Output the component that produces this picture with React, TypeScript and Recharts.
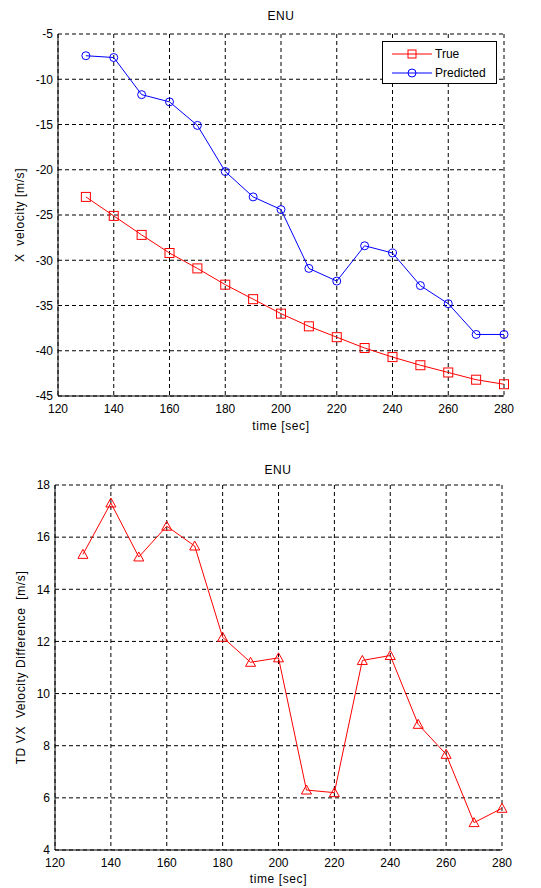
import React from "react";
import {
  LineChart,
  Line,
  XAxis,
  YAxis,
  CartesianGrid,
  Legend,
} from "recharts";

const times = [130, 140, 150, 160, 170, 180, 190, 200, 210, 220, 230, 240, 250, 260, 270, 280];
const trueVx = [-23.0, -25.1, -27.2, -29.2, -30.9, -32.7, -34.3, -35.9, -37.3, -38.5, -39.7, -40.7, -41.6, -42.4, -43.2, -43.7];
const predVx = [-7.4, -7.6, -11.7, -12.5, -15.1, -20.2, -23.0, -24.4, -30.9, -32.3, -28.4, -29.2, -32.8, -34.8, -38.2, -38.2];
const diffVx = [15.34, 17.31, 15.24, 16.42, 15.66, 12.16, 11.2, 11.37, 6.3, 6.2, 11.27, 11.46, 8.82, 7.67, 5.05, 5.6];

const xTicks = [120, 140, 160, 180, 200, 220, 240, 260, 280];
const yTicksTop = [-45, -40, -35, -30, -25, -20, -15, -10, -5];
const yTicksBottom = [4, 6, 8, 10, 12, 14, 16, 18];

const topData = times.map((t, i) => ({ t, trueV: trueVx[i], predV: predVx[i] }));
const bottomData = times.map((t, i) => ({ t, diff: diffVx[i] }));

const FONT = "'Liberation Sans', Arial, Helvetica, sans-serif";
const RED = "#ff0000";
const BLUE = "#0000ff";

const SquareDot = (props: any) => {
  const { cx, cy } = props;
  if (cx == null || cy == null) return null;
  return <rect x={cx - 4.5} y={cy - 4.5} width={9} height={9} fill="none" stroke={RED} strokeWidth={1} />;
};
const CircleDot = (props: any) => {
  const { cx, cy } = props;
  if (cx == null || cy == null) return null;
  return <circle cx={cx} cy={cy} r={4} fill="none" stroke={BLUE} strokeWidth={1} />;
};
const TriDot = (props: any) => {
  const { cx, cy } = props;
  if (cx == null || cy == null) return null;
  return (
    <polygon
      points={`${cx},${cy - 5} ${cx + 5},${cy + 4} ${cx - 5},${cy + 4}`}
      fill="none"
      stroke={RED}
      strokeWidth={1}
    />
  );
};

const tickStyle = { fill: "#000", fontSize: 12, fontFamily: FONT };
const labelStyle = { fill: "#000", fontSize: 12, fontFamily: FONT, letterSpacing: 0.6 };

const LegendBox = () => (
  <div
    style={{
      width: 115,
      height: 43,
      border: "1px solid #000",
      background: "#fff",
      fontFamily: FONT,
      fontSize: 12,
      boxSizing: "border-box",
      position: "relative",
    }}
  >
    <svg width={115} height={43} style={{ position: "absolute", left: 0, top: 0 }}>
      <line x1={9} x2={49} y1={12} y2={12} stroke={RED} strokeWidth={1} />
      <rect x={25} y={8} width={8} height={8} fill="none" stroke={RED} />
      <text x={52} y={16} fontSize={12} fontFamily={FONT} fill="#000">True</text>
      <line x1={9} x2={49} y1={31} y2={31} stroke={BLUE} strokeWidth={1} />
      <circle cx={29} cy={31} r={4} fill="none" stroke={BLUE} />
      <text x={52} y={35} fontSize={12} fontFamily={FONT} fill="#000">Predicted</text>
    </svg>
  </div>
);

const Title = ({ top, left }: { top: number; left: number }) => (
  <div
    style={{
      position: "absolute",
      top,
      left,
      width: 60,
      textAlign: "center",
      fontFamily: FONT,
      fontSize: 12,
      color: "#000",
      lineHeight: "14px",
      letterSpacing: 0.5,
    }}
  >
    ENU
  </div>
);

export default function App() {
  return (
    <div style={{ position: "absolute", left: 0, top: 0, width: 541, height: 888, background: "#fff" }}>
      <Title top={9} left={251} />
      <div style={{ position: "absolute", left: 0, top: 0 }}>
        <LineChart width={541} height={440} data={topData} margin={{ top: 34, right: 37, bottom: 0, left: 0 }}>
          <CartesianGrid stroke="#000" strokeDasharray="4 3" strokeWidth={1} />
          <XAxis
            dataKey="t"
            type="number"
            domain={[120, 280]}
            ticks={xTicks}
            height={44}
            tickSize={0}
            tickMargin={8}
            tick={tickStyle}
            axisLine={{ stroke: "#000" }}
            label={{ value: "time [sec]", position: "insideBottom", offset: 10, ...labelStyle }}
          />
          <XAxis xAxisId="top" orientation="top" dataKey="t" type="number" domain={[120, 280]} height={0} tick={false} tickLine={false} axisLine={{ stroke: "#000" }} />
          <YAxis
            type="number"
            domain={[-45, -5]}
            ticks={yTicksTop}
            width={58}
            tickSize={0}
            tickMargin={5}
            tick={tickStyle}
            axisLine={{ stroke: "#000" }}
            label={{ value: "X\u00a0\u00a0velocity [m/s]", angle: -90, position: "center", dx: -9, ...labelStyle }}
          />
          <YAxis yAxisId="right" orientation="right" domain={[-45, -5]} width={0} tick={false} tickLine={false} axisLine={{ stroke: "#000" }} />
          <Line dataKey="trueV" name="True" stroke={RED} strokeWidth={1} dot={<SquareDot />} isAnimationActive={false} />
          <Line dataKey="predV" name="Predicted" stroke={BLUE} strokeWidth={1} dot={<CircleDot />} isAnimationActive={false} />
          <Legend
            layout="vertical"
            align="center"
            verticalAlign="middle"
            content={() => <LegendBox />}
            wrapperStyle={{ top: 41, left: 382, width: 115, height: 43 }}
          />
        </LineChart>
      </div>
      <Title top={463} left={248} />
      <div style={{ position: "absolute", left: 0, top: 440 }}>
        <LineChart width={541} height={448} data={bottomData} margin={{ top: 45, right: 39, bottom: 0, left: 0 }}>
          <CartesianGrid stroke="#000" strokeDasharray="4 3" strokeWidth={1} />
          <XAxis
            dataKey="t"
            type="number"
            domain={[120, 280]}
            ticks={xTicks}
            height={38}
            tickSize={0}
            tickMargin={8}
            tick={tickStyle}
            axisLine={{ stroke: "#000" }}
            label={{ value: "time [sec]", position: "insideBottom", offset: 5, ...labelStyle }}
          />
          <XAxis xAxisId="top" orientation="top" dataKey="t" type="number" domain={[120, 280]} height={0} tick={false} tickLine={false} axisLine={{ stroke: "#000" }} />
          <YAxis
            type="number"
            domain={[4, 18]}
            ticks={yTicksBottom}
            width={55}
            tickSize={0}
            tickMargin={5}
            tick={tickStyle}
            axisLine={{ stroke: "#000" }}
            label={{ value: "TD VX\u00a0\u00a0Velocity Difference\u00a0\u00a0[m/s]", angle: -90, position: "center", dx: -7, ...labelStyle }}
          />
          <YAxis yAxisId="right" orientation="right" domain={[4, 18]} width={0} tick={false} tickLine={false} axisLine={{ stroke: "#000" }} />
          <Line dataKey="diff" name="Difference" stroke={RED} strokeWidth={1} dot={<TriDot />} isAnimationActive={false} />
        </LineChart>
      </div>
    </div>
  );
}
